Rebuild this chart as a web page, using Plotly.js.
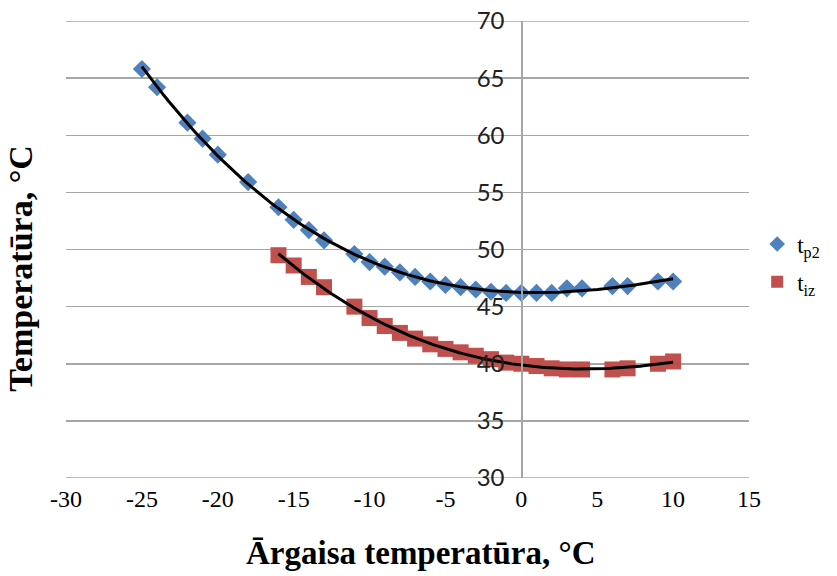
<!DOCTYPE html>
<html>
<head>
<meta charset="utf-8">
<script src="https://cdn.plot.ly/plotly-3.0.1.min.js"></script>
<style>html,body{margin:0;padding:0;background:#fff;}#chart{width:837px;height:576px;}</style>
</head>
<body>
<div id="chart"></div>
<script>
// Outdoor temperature (°C) and series values
const tp2X = [-25,-24,-22,-21,-20,-18,-16,-15,-14,-13,-11,-10,-9,-8,-7,-6,-5,-4,-3,-2,-1,0,1,2,3,4,6,7,9,10];
const tp2Y = [65.8,64.2,61.1,59.7,58.3,55.9,53.7,52.6,51.7,50.8,49.6,48.9,48.5,48.0,47.6,47.2,46.9,46.7,46.5,46.3,46.2,46.2,46.2,46.2,46.6,46.6,46.8,46.8,47.2,47.2];
const tizX = [-16,-15,-14,-13,-11,-10,-9,-8,-7,-6,-5,-4,-3,-2,-1,0,1,2,3,4,6,7,9,10];
const tizY = [49.5,48.6,47.6,46.7,45.0,44.0,43.3,42.7,42.2,41.7,41.3,41.0,40.7,40.4,40.1,40.0,39.8,39.6,39.5,39.5,39.5,39.6,40.0,40.2];
const xTicks = [-30,-25,-20,-15,-10,-5,0,5,10,15];
const yTicks = [30,35,40,45,50,55,60,65,70];
const seriesNames = ['t<sub>p2</sub>', 't<sub>iz</sub>'];

// polynomial least-squares trendline (as the spreadsheet trendline)
function polyFit(xs, ys, order) {
  const n = order + 1;
  const A = [];
  for (let r = 0; r < n; r++) A.push(new Array(n + 1).fill(0));
  for (let i = 0; i < xs.length; i++) {
    for (let r = 0; r < n; r++) {
      for (let c = 0; c < n; c++) A[r][c] += Math.pow(xs[i], r + c);
      A[r][n] += Math.pow(xs[i], r) * ys[i];
    }
  }
  for (let c = 0; c < n; c++) {
    let piv = c;
    for (let r = c + 1; r < n; r++) if (Math.abs(A[r][c]) > Math.abs(A[piv][c])) piv = r;
    [A[c], A[piv]] = [A[piv], A[c]];
    for (let r = 0; r < n; r++) {
      if (r === c) continue;
      const f = A[r][c] / A[c][c];
      for (let k = c; k <= n; k++) A[r][k] -= f * A[c][k];
    }
  }
  return A.map((row, i) => row[n] / row[i]);
}
function trend(xs, ys, order) {
  const c = polyFit(xs, ys, order);
  const x0 = Math.min(...xs), x1 = Math.max(...xs);
  const tx = [], ty = [];
  for (let i = 0; i <= 120; i++) {
    const x = x0 + (x1 - x0) * i / 120;
    let y = 0;
    for (let k = 0; k < c.length; k++) y += c[k] * Math.pow(x, k);
    tx.push(x); ty.push(y);
  }
  return {tx, ty};
}
const t1 = trend(tp2X, tp2Y, 3);
const t2 = trend(tizX, tizY, 3);

const serif = 'Liberation Serif, Times New Roman, serif';
const gridColor = '#a6a6a6';
const data = [
  {x: tp2X, y: tp2Y, type: 'scatter', mode: 'markers', name: seriesNames[0], legendgroup: 'a',
   marker: {symbol: 'diamond', size: 14, color: '#4F81BD'}},
  {x: tizX, y: tizY, type: 'scatter', mode: 'markers', name: seriesNames[1], legendgroup: 'b',
   marker: {symbol: 'square', size: 16, color: '#C0504D'}},
  {x: t1.tx, y: t1.ty, type: 'scatter', mode: 'lines', showlegend: false, hoverinfo: 'skip',
   line: {color: '#000000', width: 3}},
  {x: t2.tx, y: t2.ty, type: 'scatter', mode: 'lines', showlegend: false, hoverinfo: 'skip',
   line: {color: '#000000', width: 3}}
];

// gridlines at the two range edges (Plotly skips them)
const edgeShapes = [yTicks[0], yTicks[yTicks.length - 1]].map(v => ({
  type: 'line', xref: 'paper', yref: 'y', x0: 0, x1: 1, y0: v, y1: v, layer: 'below',
  line: {color: gridColor, width: 1.5}
}));

const layout = {
  width: 837, height: 576,
  margin: {l: 66, r: 82, t: 21, b: 98},
  paper_bgcolor: '#ffffff', plot_bgcolor: '#ffffff',
  showlegend: true,
  legend: {x: 1.012, xanchor: 'left', y: 0.4705, yanchor: 'middle',
           font: {family: serif, size: 23, color: '#000'},
           itemsizing: 'constant', tracegroupgap: 5, bgcolor: 'rgba(0,0,0,0)'},
  xaxis: {
    range: [-30, 15], tickvals: xTicks, ticktext: xTicks.map(String),
    showgrid: false, zeroline: false, showline: false, ticks: '', ticklabelstandoff: 4,
    tickfont: {family: serif, size: 24, color: '#000'},
    title: {text: ''}
  },
  yaxis: {
    range: [30, 70], tickvals: yTicks, ticktext: yTicks.map(String),
    anchor: 'free', position: 30/45,
    showgrid: true, gridcolor: gridColor, gridwidth: 1.5,
    zeroline: false, showline: true, linecolor: gridColor, linewidth: 1.5,
    ticks: '', ticklabelstandoff: 12,
    tickfont: {family: 'Lato, Open Sans, sans-serif', size: 24, color: '#222'},
    title: {text: ''}
  },
  shapes: edgeShapes,
  annotations: [
    {text: '<b>Ārgaisa temperatūra, °C</b>', xref: 'paper', yref: 'paper',
     x: 0.52, y: -0.164, xanchor: 'center', yanchor: 'middle',
     showarrow: false, font: {family: serif, size: 33, color: '#000'}},
    {text: '<b>Temperatūra, °C</b>', xref: 'paper', yref: 'paper',
     x: -0.066, y: 0.46, xanchor: 'center', yanchor: 'middle', textangle: -90,
     showarrow: false, font: {family: serif, size: 34, color: '#000'}}
  ]
};

Plotly.newPlot('chart', data, layout, {displayModeBar: false, staticPlot: true});
</script>
</body>
</html>
